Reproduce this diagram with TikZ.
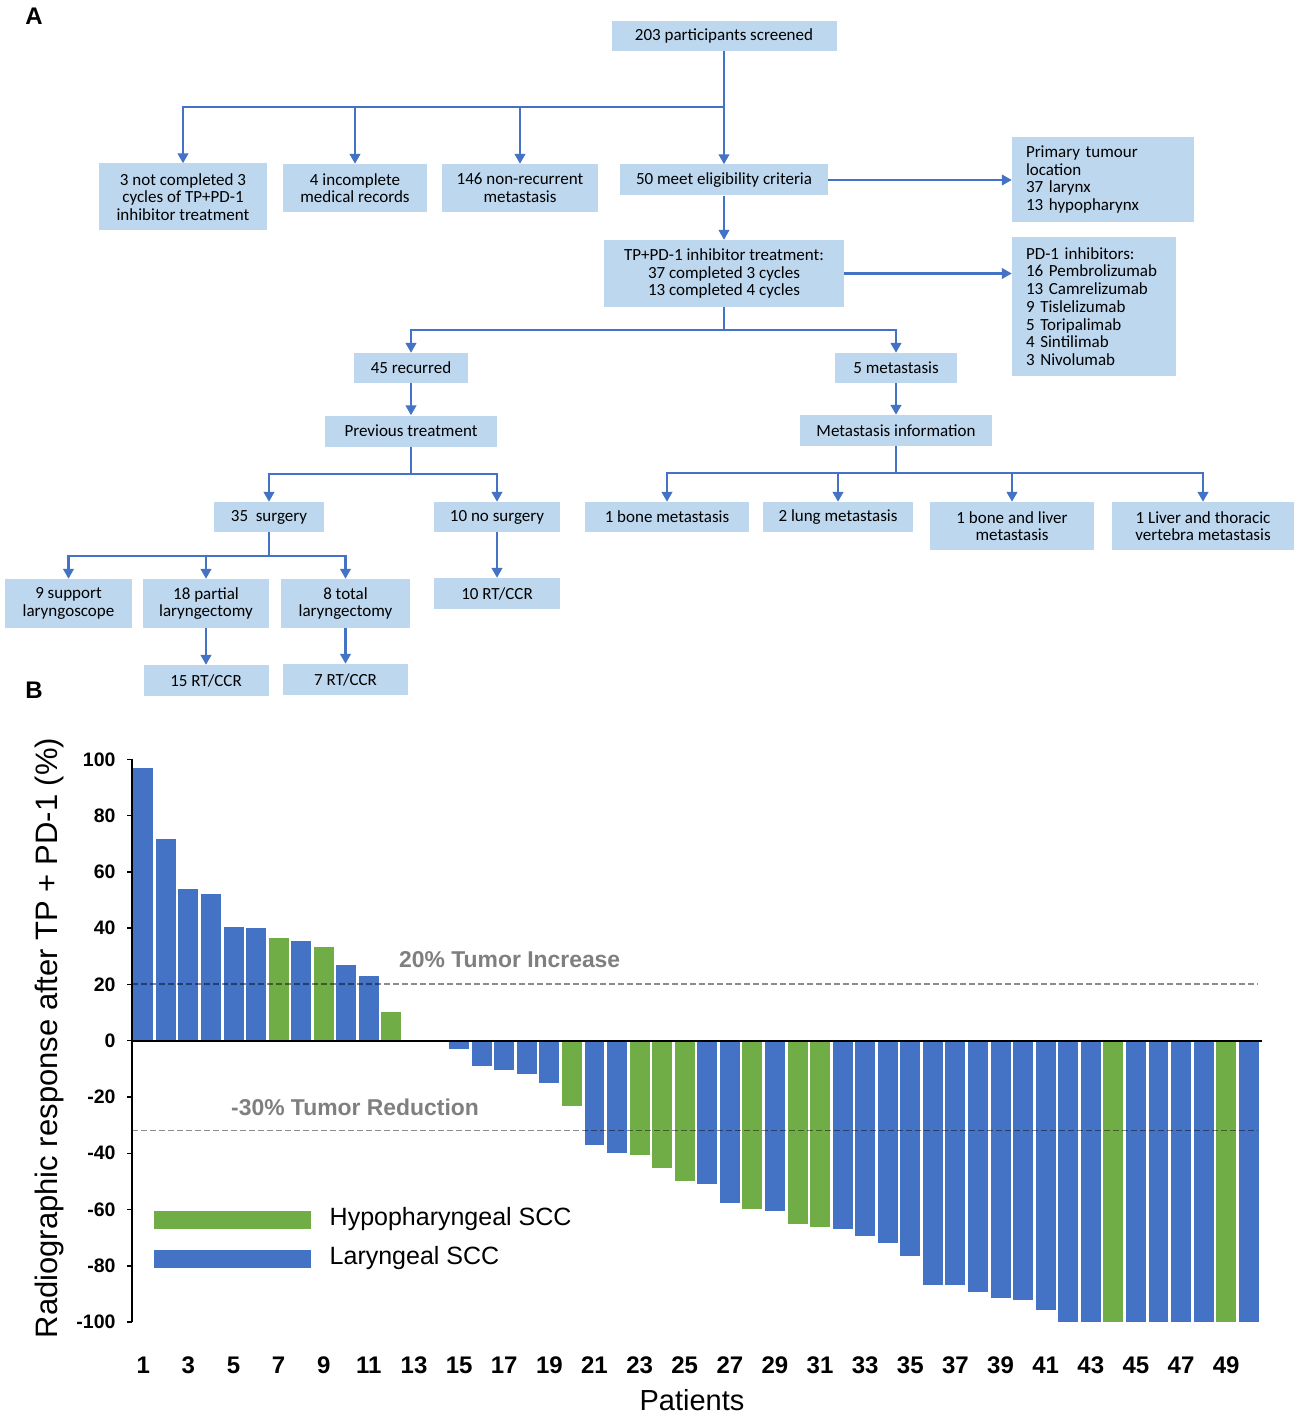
\documentclass[tikz,border=0pt]{standalone}
\usepackage{fontspec}
\setmainfont{Carlito}
\newfontfamily\arialf{Liberation Sans}
\usetikzlibrary{arrows.meta}
\definecolor{boxfill}{HTML}{BDD7EE}
\definecolor{lineblue}{HTML}{4472C4}
\definecolor{barblue}{HTML}{4472C4}
\definecolor{bargreen}{HTML}{70AD47}
\definecolor{lblgray}{HTML}{7F7F7F}
\begin{document}
\begin{tikzpicture}[x=1pt,y=-1pt,
  box/.style={fill=boxfill, inner sep=0pt, align=center, minimum width=#1,
    font=\fontsize{17}{17.5}\selectfont},
  lbox/.style={fill=boxfill, inner ysep=0pt, inner xsep=14pt, align=left, text width=#1,
    font=\fontsize{17}{17.7}\selectfont},
  conn/.style={draw=lineblue, line width=2.8pt},
  arr/.style={conn, -{Triangle[length=10pt,width=10.5pt]}},
  tick/.style={font=\arialf\bfseries\fontsize{19.5}{19.5}\selectfont, anchor=east},
  xtick/.style={font=\arialf\bfseries\fontsize{24}{24}\selectfont},
  panel/.style={font=\arialf\bfseries\fontsize{24}{24}\selectfont},
  refline/.style={dashed, dash pattern=on 6pt off 3pt, line width=1.6pt, draw=black, draw opacity=0.45},
  reflabel/.style={font=\arialf\bfseries\fontsize{22.9}{22.9}\selectfont, text=lblgray, anchor=west, inner sep=0pt}]
\useasboundingbox (0,0) rectangle (1299,1415);
\fill[white] (0,0) rectangle (1299,1415);

% ---------------- Panel A ----------------
\node[panel] (pA) at (34,16) {A};
\node[box=225, minimum height=30] (n203) at (724,36) {203 participants screened};
\node[box=168, minimum height=67] (n3) at (183,197) {3 not completed 3\\cycles of TP+PD-1\\inhibitor treatment};
\node[box=144, minimum height=48] (n4) at (355,188) {4 incomplete\\medical records};
\node[box=156, minimum height=48] (n146) at (520,188) {146 non-recurrent\\metastasis};
\node[box=208, minimum height=31] (n50) at (724,180) {50 meet eligibility criteria};
\node[lbox=154, minimum height=85] (nprim) at (1103,179.5) {Primary tumour\\location\\37 larynx\\13 hypopharynx};
\node[box=240, minimum height=67] (ntp) at (724,273.5) {TP+PD-1 inhibitor treatment:\\37 completed 3 cycles\\13 completed 4 cycles};
\node[lbox=136, minimum height=139] (npd) at (1094,306.5) {PD-1 inhibitors:\\16 Pembrolizumab\\13 Camrelizumab\\9 Tislelizumab\\5 Toripalimab\\4 Sintilimab\\3 Nivolumab};
\node[box=114, minimum height=30] (nrec) at (411,368) {45 recurred};
\node[box=122, minimum height=30] (nmet) at (896,368) {5 metastasis};
\node[box=172, minimum height=31] (nprev) at (411,431) {Previous treatment};
\node[box=192, minimum height=31] (nminfo) at (896,430.5) {Metastasis information};
\node[box=110, minimum height=30] (nsurg) at (269,517) {35\ \ surgery};
\node[box=126, minimum height=30] (nnosurg) at (497,517) {10 no surgery};
\node[box=126, minimum height=31] (nrt10) at (497,593.5) {10 RT/CCR};
\node[box=127, minimum height=49] (nsupp) at (68.5,603.5) {9 support\\laryngoscope};
\node[box=126, minimum height=49] (npart) at (206,603.5) {18 partial\\laryngectomy};
\node[box=129, minimum height=49] (ntot) at (345.5,603.5) {8 total\\laryngectomy};
\node[box=125, minimum height=31] (nrt15) at (206,680.5) {15 RT/CCR};
\node[box=125, minimum height=31] (nrt7) at (345.5,679.5) {7 RT/CCR};
\node[box=164, minimum height=30] (nbone) at (667,517) {1 bone metastasis};
\node[box=150, minimum height=30] (nlung) at (838,517) {2 lung metastasis};
\node[box=164, minimum height=48] (nbl) at (1012,526) {1 bone and liver\\metastasis};
\node[box=182, minimum height=48] (nlt) at (1203,526) {1 Liver and thoracic\\vertebra metastasis};

\coordinate (b1) at (724,107);
\coordinate (b2) at (724,330);
\coordinate (b3) at (411,474);
\coordinate (b4) at (896,473);
\coordinate (b5) at (269,556);

\draw[arr] (n203.south) -- (n50.north);
\draw[arr] (b1) -| (n3.north);
\draw[arr] (b1) -| (n4.north);
\draw[arr] (b1) -| (n146.north);
\draw[arr] (n50.east) -- (nprim.west |- n50.east);
\draw[arr] (n50.south) -- (ntp.north);
\draw[arr] (ntp.east) -- (npd.west |- ntp.east);
\draw[conn] (ntp.south) -- (b2);
\draw[arr] (b2) -| (nrec.north);
\draw[arr] (b2) -| (nmet.north);
\draw[arr] (nrec.south) -- (nprev.north);
\draw[arr] (nmet.south) -- (nminfo.north);
\draw[conn] (nprev.south) -- (b3);
\draw[arr] (b3) -| (nsurg.north);
\draw[arr] (b3) -| (nnosurg.north);
\draw[conn] (nminfo.south) -- (b4);
\draw[arr] (b4) -| (nbone.north);
\draw[arr] (b4) -| (nlung.north);
\draw[arr] (b4) -| (nbl.north);
\draw[arr] (b4) -| (nlt.north);
\draw[conn] (nsurg.south) -- (b5);
\draw[arr] (b5) -| (nsupp.north);
\draw[arr] (b5) -| (npart.north);
\draw[arr] (b5) -| (ntot.north);
\draw[arr] (nnosurg.south) -- (nrt10.north);
\draw[arr] (npart.south) -- (nrt15.north);
\draw[arr] (ntot.south) -- (nrt7.north);

% ---------------- Panel B ----------------
\node[panel] (pB) at (34,690) {B};
\foreach \v/\c [count=\i] in {97/barblue,71.6/barblue,53.9/barblue,52.1/barblue,40.4/barblue,39.9/barblue,36.4/bargreen,35.5/barblue,33.3/bargreen,26.8/barblue,23.1/barblue,10.1/bargreen,0/barblue,0/barblue,-2.9/barblue,-9/barblue,-10.5/barblue,-12/barblue,-14.9/barblue,-23.1/bargreen,-37/barblue,-39.9/barblue,-40.7/bargreen,-45.4/bargreen,-49.7/bargreen,-50.9/barblue,-57.7/barblue,-59.8/bargreen,-60.6/barblue,-65.1/bargreen,-66.3/bargreen,-67.0/barblue,-69.4/barblue,-71.8/barblue,-76.4/barblue,-86.8/barblue,-86.9/barblue,-89.4/barblue,-91.4/barblue,-92.1/barblue,-95.8/barblue,-100/barblue,-100/barblue,-100/bargreen,-100/barblue,-100/barblue,-100/barblue,-100/barblue,-100/bargreen,-100/barblue}{
  \pgfmathsetmacro\xl{132+22.56*(\i-1)+1.3}
  \pgfmathsetmacro\xr{132+22.56*\i-1.3}
  \pgfmathsetmacro\yt{1040.7-2.814*\v}
  \fill[\c] (\xl,1040.7) rectangle (\xr,\yt);
}
% reference lines
\draw[refline] (132,984) -- (1258,984);
\draw[refline] (132,1130.5) -- (1258,1130.5);
\node[reflabel] (l20) at (399,960) {20\% Tumor Increase};
\node[reflabel] (l30) at (231,1107) {-30\% Tumor Reduction};
% axes
\draw[line width=1.6pt] (132,759.3) -- (132,1322);
\draw[line width=2pt] (132,1040.7) -- (1262,1040.7);
\foreach \t in {100,80,...,-100}{
  \pgfmathsetmacro\yy{1040.7-2.814*\t}
  \draw[line width=1.4pt] (127,\yy) -- (132,\yy);
  \node[tick] at (119,\yy) {\t};
}
\foreach \i in {1,3,...,49}{
  \node[xtick] at ({132+22.56*(\i-0.5)},1365) {\i};
}
\node[font=\arialf\fontsize{29}{29}\selectfont] (xt) at (692,1400) {Patients};
\node[font=\arialf\fontsize{31}{31}\selectfont, rotate=90] (yt) at (49,1038) {Radiographic response after TP + PD-1 (\%)};
% legend
\fill[bargreen] (154,1210.7) rectangle (310.5,1229);
\fill[barblue] (154,1249.7) rectangle (310.5,1268.3);
\node[font=\arialf\fontsize{25}{25}\selectfont, anchor=west, inner sep=0pt] (lg1) at (329.5,1219) {Hypopharyngeal SCC};
\node[font=\arialf\fontsize{25}{25}\selectfont, anchor=west, inner sep=0pt] (lg2) at (329.5,1258) {Laryngeal SCC};
\end{tikzpicture}
\end{document}
